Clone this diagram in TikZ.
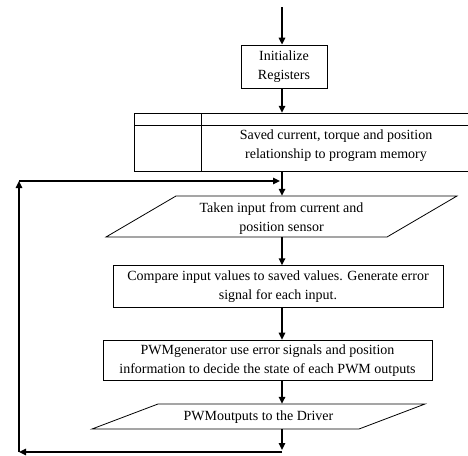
\documentclass[tikz,border=0pt]{standalone}
\usepackage{fontspec}
\setmainfont{Liberation Serif}
\usetikzlibrary{arrows.meta,calc}
\begin{document}
\begin{tikzpicture}[x=1pt,y=-1pt,
  box/.style={draw,line width=0.8pt,inner sep=0pt},
  txt/.style={align=center,font=\fontsize{14}{19}\selectfont,inner sep=0pt},
  arr/.style={line width=1.5pt,-{Triangle[length=7pt,width=6.5pt]}},
  ln/.style={line width=1.5pt}]
\useasboundingbox (0,0) rectangle (468,455);
\coordinate (spine) at (282,0);
% top arrow
\coordinate (start) at (282,7);
\node[box,minimum width=86pt,minimum height=43pt,txt] (init) at (284,66.5) {Initialize\\Registers};
% table
\draw[line width=0.8pt] (134.7,113) rectangle (480,171);
\draw[line width=0.8pt] (134.7,125) -- (480,125);
\draw[line width=0.8pt] (201.7,113) -- (201.7,171);
\node[minimum width=345pt,minimum height=58pt,inner sep=0pt] (tab) at (307.35,142) {};
\node[txt] (tabtxt) at (336,146) {Saved current, torque and position\\relationship to program memory};
% parallelogram 1
\draw[line width=0.8pt] (106,237) -- (176,196) -- (457,196) -- (387,237) -- cycle;
\node[minimum width=281pt,minimum height=41pt,inner sep=0pt] (in1) at (281.5,216.5) {};
\node[txt] at (281.5,219) {Taken input from current and\\position sensor};
% compare
\node[box,minimum width=330pt,minimum height=42pt,txt] (cmp) at (278,286.7) {Compare input values to saved values. Generate error\\signal for each input.};
% pwm gen
\node[box,minimum width=329pt,minimum height=40.7pt,txt] (pwm) at (267.5,360.4) {PWMgenerator use error signals and position\\information to decide the state of each PWM outputs};
% parallelogram 2
\draw[line width=0.8pt] (92,429) -- (158,404) -- (425,404) -- (359,429) -- cycle;
\node[minimum width=267pt,minimum height=25pt,inner sep=0pt] (out) at (258.5,416.5) {};
\node[txt] at (258.5,417) {PWMoutputs to the Driver};
% connectors
\draw[arr] (start) -- (init.north -| spine);
\draw[arr] (init.south -| spine) -- (tab.north -| spine);
\draw[arr] (tab.south -| spine) -- (in1.north -| spine);
\draw[arr] (in1.south -| spine) -- (cmp.north -| spine);
\draw[arr] (cmp.south -| spine) -- (pwm.north -| spine);
\draw[arr] (pwm.south -| spine) -- (out.north -| spine);
\coordinate (b1) at (282,450);
\coordinate (b2) at (282,452);
\coordinate (b3) at (19,452);
\coordinate (b4) at (19,181);
\coordinate (b5) at (280,181);
\draw[arr] (out.south -| spine) -- (b1);
\draw[arr] (b2) -- (b3);
\draw[arr] (b3) -- (b4);
\draw[arr] (b4) -- (b5);
\end{tikzpicture}
\end{document}
